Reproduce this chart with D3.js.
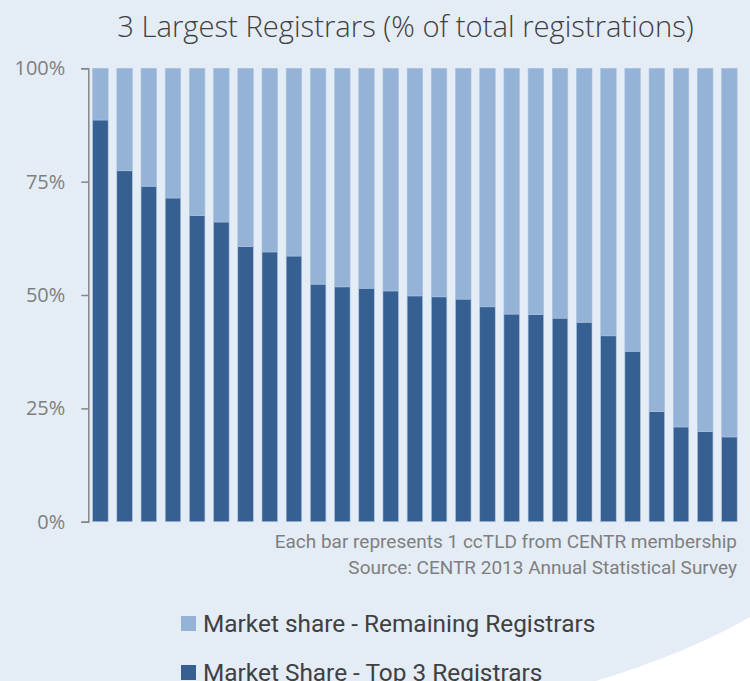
<!DOCTYPE html>
<html>
<head>
<meta charset="utf-8">
<script src="https://cdn.jsdelivr.net/npm/d3@7"></script>
<style>
  html, body { margin: 0; padding: 0; background: #e4ecf6; }
  svg { display: block; }
</style>
</head>
<body>
<div id="chart"></div>
<script>
// 3 largest registrars, one bar per ccTLD (sorted)
const titleText = '3 Largest Registrars (% of total registrations)';
const top3Share = [88.6, 77.4, 74.0, 71.4, 67.5, 66.1, 60.7, 59.5, 58.6, 52.4, 51.8, 51.5,
                   50.9, 49.8, 49.6, 49.1, 47.4, 45.8, 45.7, 44.9, 44.0, 41.0, 37.6, 24.3,
                   20.9, 19.9, 18.7];
const seriesKeys = ['top3', 'remaining'];
const seriesNames = ['Market share - Remaining Registrars', 'Market Share - Top 3 Registrars'];
const yTicks = [0, 25, 50, 75, 100];
const notes = ['Each bar represents 1 ccTLD from CENTR membership',
               'Source: CENTR 2013 Annual Statistical Survey'];

const colors = { top3: '#365f92', remaining: '#95b3d7' };

const width = 750, height = 681;

const svg = d3.select('#chart')
    .append('svg')
    .attr('width', width)
    .attr('height', height);

// background + the lighter swoosh in the lower right corner
svg.append('rect')
    .attr('width', width)
    .attr('height', height)
    .attr('fill', '#e4ecf6');

svg.append('path')
    .attr('d', 'M596,681 Q690,652 750,617 L750,681 Z')
    .attr('fill', '#ffffff');

svg.append('text')
    .attr('x', 405.5)
    .attr('y', 37)
    .attr('text-anchor', 'middle')
    .style('font-family', '"Open Sans", sans-serif')
    .style('font-weight', 300)
    .style('font-size', '29.2px')
    .attr('fill', '#404040')
    .text(titleText);

const data = top3Share.map((v, i) => ({ id: i, top3: v, remaining: 100 - v }));

const x = d3.scaleBand()
    .domain(data.map(d => d.id))
    .range([88.3, 741.5])
    .paddingInner(0.36)
    .paddingOuter(0.18);

const y = d3.scaleLinear()
    .domain([0, 100])
    .range([521.7, 68.3]);

const stacked = d3.stack().keys(seriesKeys)(data);

svg.append('g')
    .selectAll('g')
    .data(stacked)
    .join('g')
    .attr('fill', d => colors[d.key])
    .selectAll('rect')
    .data(d => d)
    .join('rect')
    .attr('x', d => x(d.data.id))
    .attr('y', d => y(d[1]))
    .attr('width', x.bandwidth())
    .attr('height', d => y(d[0]) - y(d[1]))
    .attr('stroke', '#a9c1de')
    .attr('stroke-width', 0.6);

// y axis
const yAxis = svg.append('g')
    .attr('transform', 'translate(88.3,0)')
    .call(d3.axisLeft(y)
        .tickValues(yTicks)
        .tickFormat(d => d + '%')
        .tickSize(7)
        .tickPadding(16));

yAxis.select('.domain').attr('stroke', '#868686').attr('stroke-width', 1.5);
yAxis.selectAll('.tick line').attr('stroke', '#868686').attr('stroke-width', 1.5);
yAxis.selectAll('.tick text')
    .attr('fill', '#7f7f7f')
    .style('font-family', '"Open Sans", sans-serif')
    .style('font-size', '20px');

// source notes
svg.append('g')
    .selectAll('text')
    .data(notes)
    .join('text')
    .attr('x', 737)
    .attr('y', (d, i) => 548 + i * 26)
    .attr('text-anchor', 'end')
    .attr('fill', '#7f7f7f')
    .style('font-family', 'Roboto, sans-serif')
    .style('font-size', '19px')
    .text(d => d);

// legend
const legendKeys = ['remaining', 'top3'];
const legend = svg.append('g')
    .selectAll('g')
    .data(legendKeys)
    .join('g')
    .attr('transform', (d, i) => `translate(181,${616 + i * 49})`);

legend.append('rect')
    .attr('width', 15)
    .attr('height', 15)
    .attr('fill', d => colors[d]);

legend.append('text')
    .attr('x', 22)
    .attr('y', 15.5)
    .attr('fill', '#404040')
    .style('font-family', 'Roboto, sans-serif')
    .style('font-size', '24.4px')
    .text((d, i) => seriesNames[i]);
</script>
</body>
</html>
